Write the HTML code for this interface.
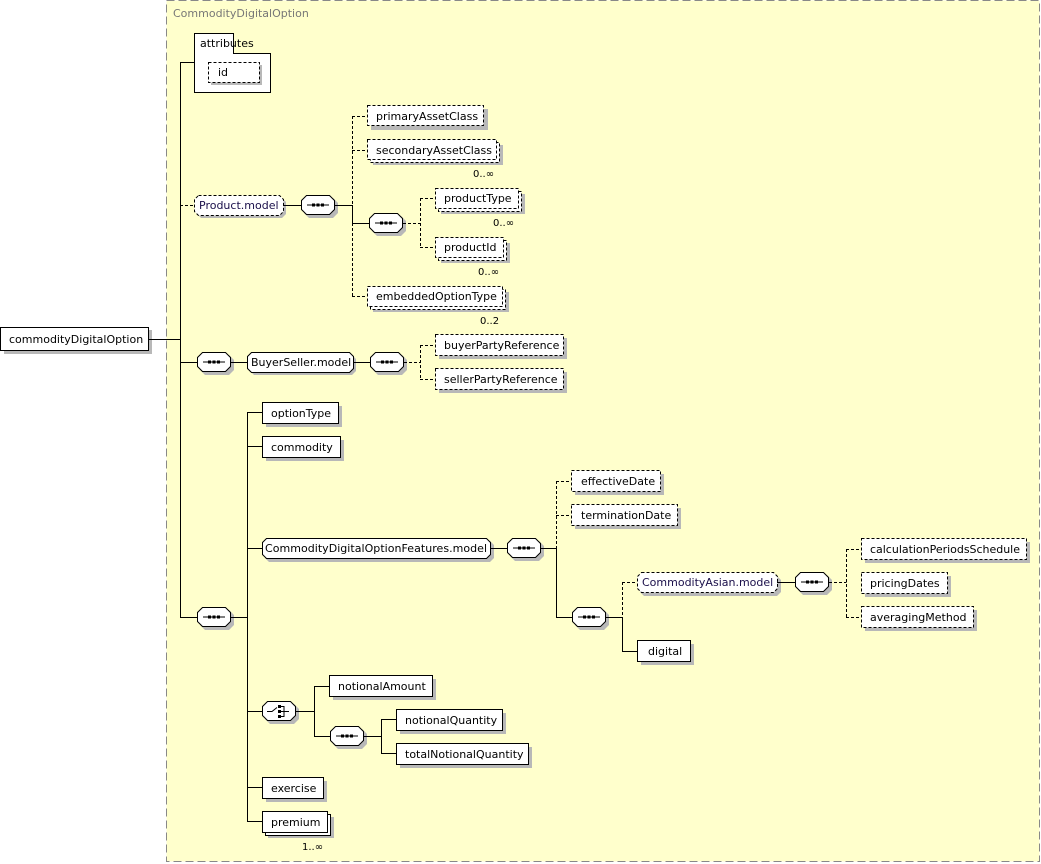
<!DOCTYPE html>
<html><head><meta charset="utf-8"><style>
html,body{margin:0;padding:0;background:#fff;}
svg{display:block;font-family:"DejaVu Sans","Liberation Sans",sans-serif;font-size:11px;}
.b{fill:#fff;stroke:#000;stroke-width:1;}
.d{fill:#fff;stroke:#000;stroke-width:1;stroke-dasharray:3,2;}
.s{fill:#b8b8b8;stroke:none;}
.l{stroke:#000;stroke-width:1;fill:none;}
.ld{stroke:#000;stroke-width:1;fill:none;stroke-dasharray:3,2;}
text{fill:#000;}
.m{fill:#000;font-size:10px;}
</style></head><body>
<svg width="1041" height="864" viewBox="0 0 1041 864" xmlns="http://www.w3.org/2000/svg">
<defs>
<g id="seq">
<polygon class="s" points="8,3 32,3 37,8 37,18 32,23 8,23 3,18 3,8"/>
<polygon class="b" points="5.5,0.5 28.5,0.5 33.5,5.5 33.5,14.5 28.5,19.5 5.5,19.5 0.5,14.5 0.5,5.5"/>
<line class="l" x1="6" y1="10" x2="28" y2="10"/>
<rect x="11" y="8.5" width="3" height="3" fill="#000"/>
<rect x="15.5" y="8.5" width="3" height="3" fill="#000"/>
<rect x="20" y="8.5" width="3" height="3" fill="#000"/>
</g>
</defs>
<rect x="166.5" y="0.5" width="873" height="861" fill="#ffffcc" stroke="#888" stroke-dasharray="8,4"/>
<text x="173" y="17" style="fill:#777">CommodityDigitalOption</text>

<rect class="s" x="4" y="330" width="148" height="24"/>
<rect class="b" x="0.5" y="327.5" width="148" height="23"/>
<text x="9" y="343">commodityDigitalOption</text>
<line class="l" x1="149" y1="339.5" x2="180" y2="339.5"/>
<line class="l" x1="180.5" y1="62" x2="180.5" y2="618"/>

<line class="l" x1="180" y1="62.5" x2="194" y2="62.5"/>
<path class="b" d="M194.5,33.5 H233.5 V53.5 H270.5 V92.5 H194.5 Z"/>
<text x="200" y="47">attributes</text>
<rect class="s" x="211" y="65" width="51" height="20"/>
<rect class="d" x="208.5" y="62.5" width="51" height="20"/>
<text x="218" y="76">id</text>

<line class="ld" x1="180" y1="205.5" x2="194" y2="205.5"/>
<polygon class="s" points="201,198 282,198 286,202 286,214 282,218 201,218 197,214 197,202"/>
<polygon class="d" points="198.5,195.5 279.5,195.5 283.5,199.5 283.5,211.5 279.5,215.5 198.5,215.5 194.5,211.5 194.5,199.5"/>
<text x="199" y="209" style="fill:#1a0f4a">Product.model</text>
<line class="l" x1="283" y1="205.5" x2="301" y2="205.5"/>
<use href="#seq" x="301" y="195"/>
<line class="l" x1="335" y1="205.5" x2="352.5" y2="205.5"/>
<line class="ld" x1="352.5" y1="116" x2="352.5" y2="205"/>
<line class="l" x1="352.5" y1="205" x2="352.5" y2="223"/>
<line class="ld" x1="352.5" y1="223" x2="352.5" y2="297"/>
<line class="ld" x1="352" y1="116.5" x2="367" y2="116.5"/>
<line class="ld" x1="352" y1="150.5" x2="367" y2="150.5"/>
<line class="l" x1="352" y1="223.5" x2="369" y2="223.5"/>
<line class="ld" x1="352" y1="296.5" x2="367" y2="296.5"/>

<rect class="s" x="371" y="109" width="117" height="21"/>
<rect class="d" x="367.5" y="105.5" width="116" height="20"/>
<text x="376" y="120">primaryAssetClass</text>

<rect class="s" x="373" y="145" width="130" height="20"/>
<rect class="d" x="370.5" y="142.5" width="129" height="20"/>
<rect class="d" x="367.5" y="139.5" width="129" height="20"/>
<text x="376" y="154">secondaryAssetClass</text>
<text class="m" x="473" y="177">0..∞</text>

<use href="#seq" x="369" y="213"/>
<line class="ld" x1="403" y1="223.5" x2="420.5" y2="223.5"/>
<line class="ld" x1="420.5" y1="198" x2="420.5" y2="248"/>
<line class="ld" x1="420" y1="198.5" x2="435" y2="198.5"/>
<line class="ld" x1="420" y1="247.5" x2="435" y2="247.5"/>

<rect class="s" x="441" y="194" width="84" height="20"/>
<rect class="d" x="438.5" y="191.5" width="83" height="20"/>
<rect class="d" x="435.5" y="188.5" width="83" height="20"/>
<text x="444" y="202">productType</text>
<text class="m" x="493" y="226">0..∞</text>

<rect class="s" x="441" y="243" width="69" height="20"/>
<rect class="d" x="438.5" y="240.5" width="68" height="20"/>
<rect class="d" x="435.5" y="237.5" width="68" height="20"/>
<text x="444" y="251">productId</text>
<text class="m" x="478" y="275">0..∞</text>

<rect class="s" x="373" y="292" width="136" height="20"/>
<rect class="d" x="370.5" y="289.5" width="135" height="20"/>
<rect class="d" x="367.5" y="286.5" width="135" height="20"/>
<text x="376" y="300">embeddedOptionType</text>
<text class="m" x="480" y="324">0..2</text>

<line class="l" x1="180" y1="362.5" x2="197" y2="362.5"/>
<use href="#seq" x="197" y="352"/>
<line class="l" x1="231" y1="362.5" x2="247" y2="362.5"/>
<polygon class="s" points="254,355 352,355 356,359 356,371 352,375 254,375 250,371 250,359"/>
<polygon class="b" points="251.5,352.5 349.5,352.5 353.5,356.5 353.5,368.5 349.5,372.5 251.5,372.5 247.5,368.5 247.5,356.5"/>
<text x="251" y="366">BuyerSeller.model</text>
<line class="l" x1="353" y1="362.5" x2="370" y2="362.5"/>
<use href="#seq" x="370" y="352"/>
<line class="ld" x1="404" y1="362.5" x2="420.5" y2="362.5"/>
<line class="ld" x1="420.5" y1="345" x2="420.5" y2="380"/>
<line class="ld" x1="420" y1="345.5" x2="435" y2="345.5"/>
<line class="ld" x1="420" y1="379.5" x2="435" y2="379.5"/>
<rect class="s" x="439" y="338" width="128" height="21"/>
<rect class="d" x="435.5" y="334.5" width="128" height="21"/>
<text x="444" y="349">buyerPartyReference</text>
<rect class="s" x="439" y="372" width="128" height="21"/>
<rect class="d" x="435.5" y="368.5" width="128" height="21"/>
<text x="444" y="383">sellerPartyReference</text>

<line class="l" x1="180" y1="617.5" x2="197" y2="617.5"/>
<use href="#seq" x="197" y="607"/>
<line class="l" x1="231" y1="617.5" x2="247.5" y2="617.5"/>
<line class="l" x1="247.5" y1="412" x2="247.5" y2="822"/>
<line class="l" x1="247" y1="412.5" x2="262" y2="412.5"/>
<line class="l" x1="247" y1="446.5" x2="262" y2="446.5"/>
<line class="l" x1="247" y1="548.5" x2="262" y2="548.5"/>
<line class="l" x1="247" y1="711.5" x2="262" y2="711.5"/>
<line class="l" x1="247" y1="787.5" x2="262" y2="787.5"/>
<line class="l" x1="247" y1="821.5" x2="262" y2="821.5"/>

<rect class="s" x="266" y="406" width="76" height="21"/>
<rect class="b" x="262.5" y="402.5" width="76" height="21"/>
<text x="271" y="417">optionType</text>
<rect class="s" x="266" y="440" width="78" height="21"/>
<rect class="b" x="262.5" y="436.5" width="78" height="21"/>
<text x="271" y="451">commodity</text>

<polygon class="s" points="269,541 490,541 494,545 494,558 490,562 269,562 265,558 265,545"/>
<polygon class="b" points="266.5,538.5 486.5,538.5 490.5,542.5 490.5,554.5 486.5,558.5 266.5,558.5 262.5,554.5 262.5,542.5"/>
<text x="265" y="552" textLength="222">CommodityDigitalOptionFeatures.model</text>
<line class="l" x1="490" y1="548.5" x2="507" y2="548.5"/>
<use href="#seq" x="507" y="538"/>
<line class="l" x1="541" y1="548.5" x2="556.5" y2="548.5"/>
<line class="ld" x1="556.5" y1="481" x2="556.5" y2="548"/>
<line class="l" x1="556.5" y1="548" x2="556.5" y2="618"/>
<line class="ld" x1="556" y1="481.5" x2="571" y2="481.5"/>
<line class="ld" x1="556" y1="515.5" x2="571" y2="515.5"/>
<line class="l" x1="556" y1="617.5" x2="572" y2="617.5"/>
<rect class="s" x="575" y="474" width="89" height="21"/>
<rect class="d" x="571.5" y="470.5" width="89" height="21"/>
<text x="581" y="485">effectiveDate</text>
<rect class="s" x="575" y="508" width="106" height="21"/>
<rect class="d" x="571.5" y="504.5" width="106" height="21"/>
<text x="581" y="519">terminationDate</text>

<use href="#seq" x="572" y="607"/>
<line class="l" x1="606" y1="617.5" x2="622.5" y2="617.5"/>
<line class="ld" x1="622.5" y1="582" x2="622.5" y2="617"/>
<line class="l" x1="622.5" y1="617" x2="622.5" y2="652"/>
<line class="ld" x1="622" y1="582.5" x2="637" y2="582.5"/>
<line class="l" x1="622" y1="651.5" x2="637" y2="651.5"/>
<polygon class="s" points="644,576 777,576 781,580 781,592 777,596 644,596 640,592 640,580"/>
<polygon class="d" points="641.5,572.5 773.5,572.5 777.5,576.5 777.5,588.5 773.5,592.5 641.5,592.5 637.5,588.5 637.5,576.5"/>
<text x="642" y="586" style="fill:#1a0f4a">CommodityAsian.model</text>
<line class="l" x1="777" y1="582.5" x2="795" y2="582.5"/>
<use href="#seq" x="795" y="572"/>
<line class="ld" x1="829" y1="582.5" x2="846.5" y2="582.5"/>
<line class="ld" x1="846.5" y1="549" x2="846.5" y2="617"/>
<line class="ld" x1="846" y1="549.5" x2="861" y2="549.5"/>
<line class="ld" x1="846" y1="617.5" x2="861" y2="617.5"/>
<rect class="s" x="865" y="542" width="165" height="21"/>
<rect class="d" x="861.5" y="538.5" width="165" height="21"/>
<text x="870" y="553" textLength="150">calculationPeriodsSchedule</text>
<rect class="s" x="865" y="576" width="86" height="21"/>
<rect class="d" x="861.5" y="572.5" width="86" height="21"/>
<text x="870" y="587">pricingDates</text>
<rect class="s" x="865" y="610" width="112" height="21"/>
<rect class="d" x="861.5" y="606.5" width="112" height="21"/>
<text x="870" y="621">averagingMethod</text>
<rect class="s" x="641" y="644" width="53" height="21"/>
<rect class="b" x="637.5" y="640.5" width="53" height="21"/>
<text x="648" y="655">digital</text>

<g transform="translate(262,701)">
<polygon class="s" points="8,3 32,3 37,8 37,18 32,23 8,23 3,18 3,8"/>
<polygon class="b" points="5.5,0.5 28.5,0.5 33.5,5.5 33.5,14.5 28.5,19.5 5.5,19.5 0.5,14.5 0.5,5.5"/>
<path class="l" d="M5,10.5 H10 L15,6.5 M17,10.5 H27 M17,5.5 H22 V15.5 H17"/>
<rect x="16" y="4" width="3" height="3" fill="#000"/>
<rect x="16" y="9" width="3" height="3" fill="#000"/>
<rect x="16" y="14" width="3" height="3" fill="#000"/>
</g>
<line class="l" x1="296" y1="711.5" x2="314.5" y2="711.5"/>
<line class="l" x1="314.5" y1="686" x2="314.5" y2="737"/>
<line class="l" x1="314" y1="686.5" x2="329" y2="686.5"/>
<line class="l" x1="314" y1="736.5" x2="330" y2="736.5"/>
<rect class="s" x="333" y="679" width="103" height="21"/>
<rect class="b" x="329.5" y="675.5" width="103" height="21"/>
<text x="338" y="690">notionalAmount</text>
<use href="#seq" x="330" y="726"/>
<line class="l" x1="364" y1="736.5" x2="381.5" y2="736.5"/>
<line class="l" x1="381.5" y1="719" x2="381.5" y2="754"/>
<line class="l" x1="381" y1="719.5" x2="396" y2="719.5"/>
<line class="l" x1="381" y1="753.5" x2="396" y2="753.5"/>
<rect class="s" x="400" y="713" width="106" height="21"/>
<rect class="b" x="396.5" y="709.5" width="106" height="21"/>
<text x="405" y="724">notionalQuantity</text>
<rect class="s" x="400" y="747" width="132" height="21"/>
<rect class="b" x="396.5" y="743.5" width="132" height="21"/>
<text x="405" y="758">totalNotionalQuantity</text>

<rect class="s" x="266" y="781" width="61" height="21"/>
<rect class="b" x="262.5" y="777.5" width="61" height="21"/>
<text x="271" y="792">exercise</text>
<rect class="s" x="268" y="817" width="66" height="21"/>
<rect class="b" x="265.5" y="814.5" width="65" height="21"/>
<rect class="b" x="262.5" y="811.5" width="65" height="21"/>
<text x="271" y="826">premium</text>
<text class="m" x="302" y="850">1..∞</text>
</svg>
</body></html>
